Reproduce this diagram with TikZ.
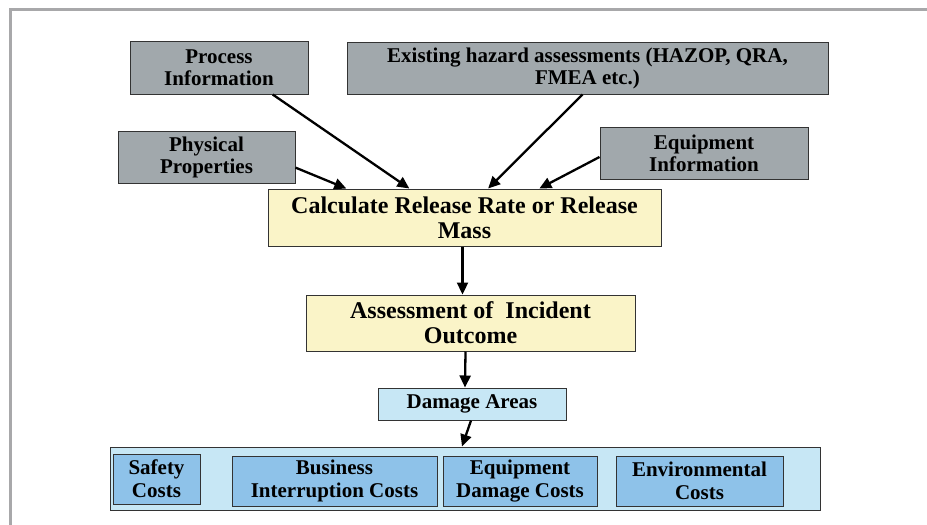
\documentclass[tikz,border=0pt]{standalone}
\usepackage{fontspec}
\setmainfont{Liberation Serif}
\usepackage{xcolor}
\usetikzlibrary{positioning,calc,arrows.meta}

\definecolor{boxgray}{RGB}{161,168,172}
\definecolor{boxyellow}{RGB}{250,244,200}
\definecolor{lightblue}{RGB}{199,231,245}
\definecolor{midblue}{RGB}{142,194,233}
\definecolor{framegray}{RGB}{168,168,170}

\tikzset{
	inputbox/.style={draw=black!80, line width=1pt, fill=boxgray, align=center, inner sep=0pt,
		font=\fontsize{21}{22}\selectfont\bfseries},
	stagebox/.style={draw=black!80, line width=1pt, fill=boxyellow, align=center, inner sep=0pt,
		font=\fontsize{24}{25}\selectfont\bfseries},
	areabox/.style={draw=black!80, line width=1pt, fill=lightblue, align=center, inner sep=0pt,
		font=\fontsize{21}{23}\selectfont\bfseries},
	costbox/.style={draw=black!80, line width=1pt, fill=midblue, align=center, inner sep=0pt,
		font=\fontsize{21}{23}\selectfont\bfseries},
	flow/.style={line width=2.3pt, -{Triangle[length=12pt,width=11pt]}}
}

\begin{document}
\begin{tikzpicture}[x=1pt, y=-1pt]
	\useasboundingbox (0,0) rectangle (927,525);
	% frame
	\draw[framegray, line width=3.5pt] (10.5,525) -- (10.5,9.5) -- (927,9.5);

	% inputs
	\node[inputbox, minimum width=178pt, minimum height=53pt] (proc) at (219,67.5) {Process\\Information};
	\node[inputbox, minimum width=481pt, minimum height=52pt] (exist) at (587.5,68) {Existing hazard assessments (HAZOP, QRA,\\FMEA etc.)};
	\node[inputbox, minimum width=177pt, minimum height=52pt] (phys) at (206.5,157) {Physical\\Properties};
	\node[inputbox, minimum width=208pt, minimum height=52pt] (equip) at (704,153) {Equipment\\Information};

	% stages
	\node[stagebox, minimum width=393pt, minimum height=57pt] (calc) at (464.5,217.5) {Calculate Release Rate or Release\\Mass};
	\node[stagebox, minimum width=329pt, minimum height=56pt] (assess) at (470.5,323) {Assessment of~ Incident\\Outcome};
	\node[areabox, minimum width=188pt, minimum height=32pt] (damage) at (472,404) {Damage Areas};

	% costs
	\node[areabox, minimum width=710pt, minimum height=63pt] (costs) at (465,478.5) {};
	\node[costbox, minimum width=87pt, minimum height=50pt] (safety) at (156.5,479) {Safety\\Costs};
	\node[costbox, minimum width=205pt, minimum height=50pt] (business) at (334.5,481) {Business\\Interruption Costs};
	\node[costbox, minimum width=154pt, minimum height=50pt] (eqdmg) at (520,481) {Equipment\\Damage Costs};
	\node[costbox, minimum width=167pt, minimum height=50pt] (environ) at (699.5,481) {Environmental\\Costs};

	% arrows
	\draw[flow] ($(proc.south west)!0.8!(proc.south east)$) -- ($(calc.north west)!0.36!(calc.north east)$);
	\draw[flow] ($(exist.south)+(-5,0)$) -- ($(calc.north west)!0.56!(calc.north east)$);
	\draw[flow] ($(phys.south east)!0.3!(phys.north east)$) -- ($(calc.north west)!0.2!(calc.north east)$);
	\draw[flow] ($(equip.west)+(0,4)$) -- ($(calc.north west)!0.69!(calc.north east)$);
	\draw[flow] ($(calc.south)+(-2,0)$) -- ($(assess.north)+(-8,0)$);
	\draw[flow] ($(assess.south)+(-5,0)$) -- ($(damage.north)+(-7,0)$);
	\draw[flow] ($(damage.south)+(-1,0)$) -- ($(costs.north)+(-3,0)$);
\end{tikzpicture}
\end{document}
